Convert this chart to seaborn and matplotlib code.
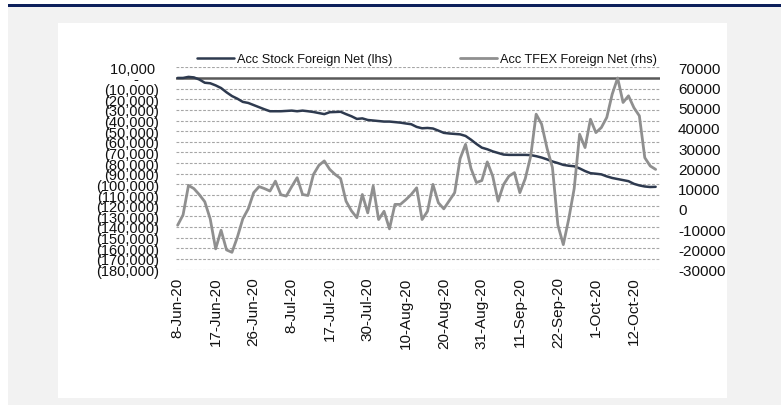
import numpy as np
import pandas as pd
import matplotlib
matplotlib.use('Agg')
import matplotlib.pyplot as plt
import seaborn as sns
from matplotlib.patches import Rectangle
from matplotlib.ticker import FixedLocator, FuncFormatter

# Acc Stock Foreign Net (lhs), THB m
stock_net = [
    0, 0, 1000, 500, -1500, -4500, -5000, -7000, -9500, -13500,
    -17000, -19500, -22500, -23500, -25500, -27500, -29500, -31300, -31300, -31300,
    -31000, -30700, -31300, -30700, -31300, -32000, -33000, -34000, -32200, -32000,
    -31800, -34000, -36000, -38500, -38000, -39500, -40000, -40500, -41000, -41000,
    -41500, -42000, -42800, -43500, -46000, -47300, -47000, -47500, -49500, -51600,
    -52200, -52600, -53000, -54500, -58000, -62000, -65500, -67000, -69000, -70500,
    -72000, -72300, -72300, -72300, -72300, -72500, -73500, -74800, -76500, -78500,
    -80000, -81700, -82500, -83000, -85000, -87500, -89500, -90000, -90600, -92500,
    -94000, -95000, -96000, -97000, -99500, -101000, -102000, -102500, -102300,
]

# Acc TFEX Foreign Net (rhs), contracts
tfex_net = [
    -8100, -3000, 11600, 10000, 7000, 3500, -5000, -19800, -10600, -20300,
    -21500, -14000, -4900, 0, 8000, 11000, 10000, 8800, 13700, 7000,
    6300, 11000, 15400, 7100, 6600, 17000, 21500, 23700, 19500, 17000,
    15000, 3800, -1000, -4400, 7100, -2000, 11300, -5300, -1200, -9900,
    2200, 2200, 4500, 7100, 10400, -5300, -1200, 12100, 3000, 0,
    4000, 8000, 24800, 31900, 20000, 13000, 14000, 23200, 16200, 3800,
    12000, 16200, 17900, 8000, 15000, 26100, 46800, 41900, 30000, 20400,
    -8000, -17700, -5000, 10000, 36900, 30300, 44300, 37700, 40200, 45200,
    56700, 64700, 52600, 55900, 50000, 46000, 25300, 21200, 19500,
]

date_labels = ['8-Jun-20', '17-Jun-20', '26-Jun-20', '8-Jul-20', '17-Jul-20',
               '30-Jul-20', '10-Aug-20', '20-Aug-20', '31-Aug-20', '11-Sep-20',
               '22-Sep-20', '1-Oct-20', '12-Oct-20']

df = pd.DataFrame({'day': np.arange(len(stock_net)), 'stock': stock_net, 'tfex': tfex_net})

sns.set_style('white')
plt.rcParams['font.family'] = ['Liberation Sans', 'DejaVu Sans']

W, H = 781, 406
fig = plt.figure(figsize=(W / 100, H / 100), dpi=100, facecolor='white')

def px_rect(x0, y0, x1, y1, color):
    fig.patches.append(Rectangle((x0 / W, 1 - y1 / H), (x1 - x0) / W, (y1 - y0) / H,
                                 transform=fig.transFigure, facecolor=color,
                                 edgecolor='none', zorder=-10))

# page background, navy rule and white chart panel
px_rect(8, 5, W, H, '#f2f2f2')
px_rect(8, 5, W, 8, '#0c1f5b')
px_rect(58, 24, 727, 399, 'white')

left, right, top, bottom = 176, 660, 68.3, 270.5
ax = fig.add_axes([left / W, 1 - bottom / H, (right - left) / W, (bottom - top) / H])
ax.set_facecolor('none')
ax2 = ax.twinx()

stock_color = '#2e3a4f'
tfex_color = '#8f8f8f'

sns.lineplot(data=df, x='day', y='stock', ax=ax, color=stock_color, linewidth=1.8,
             label='Acc Stock Foreign Net (lhs)', legend=False)
sns.lineplot(data=df, x='day', y='tfex', ax=ax2, color=tfex_color, linewidth=2.0,
             label='Acc TFEX Foreign Net (rhs)', legend=False)

ax.set_xlim(-0.3, 88.8)
ax.set_ylim(-180000, 10000)
ax2.set_ylim(-30000, 70000)

left_ticks = np.arange(-180000, 10001, 10000)
for t in left_ticks:
    if t == 0:
        continue
    ax.axhline(t, color='#a6a6a6', linewidth=0.8, linestyle=(0, (2.5, 1.5)), zorder=0)
ax.axhline(0, color='#595959', linewidth=1.8, zorder=1)

def acct(v, pos):
    # accounting style: negatives in brackets, zero as a dash
    if v == 0:
        return '-     '
    if v < 0:
        return '({:,.0f})'.format(-v)
    return '{:,.0f} '.format(v)

ax.yaxis.set_major_locator(FixedLocator(left_ticks))
ax.yaxis.set_major_formatter(FuncFormatter(acct))
ax2.yaxis.set_major_locator(FixedLocator(np.arange(-30000, 70001, 10000)))
ax2.yaxis.set_major_formatter(FuncFormatter(lambda v, p: '{:.0f}'.format(v)))

ax.set_xticks(np.arange(0, len(stock_net), 7))
ax.set_xticklabels(date_labels, rotation=90, va='top', ha='center')

ax.tick_params(axis='y', length=0, pad=12, labelsize=10.5, labelcolor='#111111')
ax2.tick_params(axis='y', length=0, pad=13, labelsize=11, labelcolor='#111111')
ax.tick_params(axis='x', length=0, pad=5, labelsize=11, labelcolor='#111111')

ax.set_xlabel('')
ax.set_ylabel('')
ax2.set_ylabel('')
for a in (ax, ax2):
    for s in a.spines.values():
        s.set_visible(False)

h1, l1 = ax.get_legend_handles_labels()
h2, l2 = ax2.get_legend_handles_labels()
fig.legend(h1 + h2, l1 + l2, loc='center', bbox_to_anchor=(427 / W, 1 - 60 / H),
           ncol=2, frameon=False, fontsize=9.2, handlelength=2.9, handletextpad=0.2,
           columnspacing=5.3, labelcolor='#111111')

fig.savefig('out.png', dpi=100, facecolor=fig.get_facecolor())
